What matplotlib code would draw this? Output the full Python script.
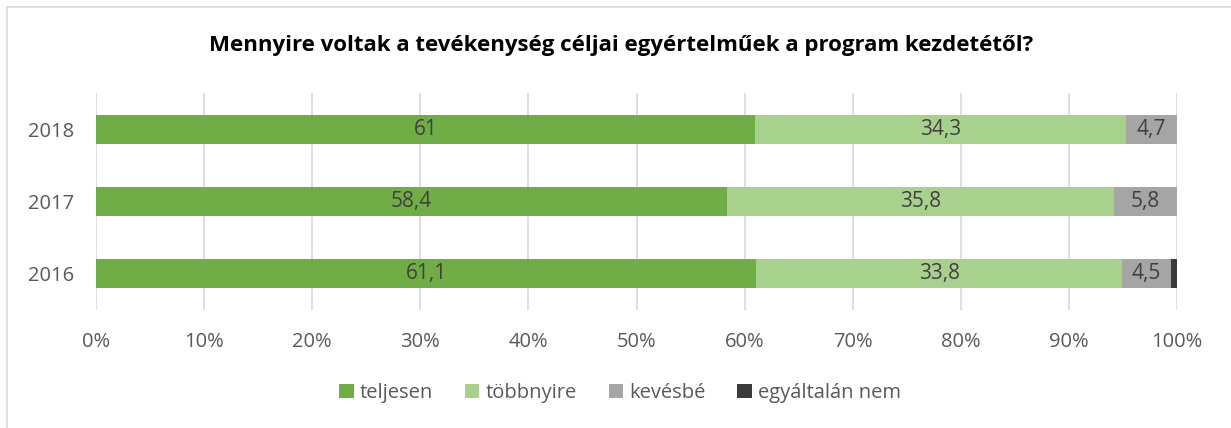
import matplotlib
matplotlib.use("Agg")
import matplotlib.pyplot as plt
from matplotlib.patches import Rectangle, Patch
import numpy as np

plt.rcParams['font.family'] = ['Open Sans', 'DejaVu Sans']

title = "Mennyire voltak a tevékenység céljai egyértelműek a program kezdetétől?"
years = ["2016", "2017", "2018"]
series_names = ["teljesen", "többnyire", "kevésbé", "egyáltalán nem"]
teljesen = [61.1, 58.4, 61.0]
tobbnyire = [33.8, 35.8, 34.3]
kevesbe = [4.5, 5.8, 4.7]
egyaltalan = [0.6, 0.0, 0.0]
colors = ["#70AD47", "#A9D18E", "#A5A5A5", "#3B3B3B"]
xticks = [0, 10, 20, 30, 40, 50, 60, 70, 80, 90, 100]

W, H = 1231, 428
fig = plt.figure(figsize=(W / 100, H / 100), dpi=100)
fig.patches.append(Rectangle((7 / W, -0.1), 1.2, (H - 7) / H + 0.1,
                             transform=fig.transFigure, fill=False,
                             edgecolor="#D9D9D9", linewidth=1.2))

ax = fig.add_axes([96 / W, 1 - 310 / H, (1177 - 96) / W, (310 - 93) / H])
y = np.arange(len(years))
left = np.zeros(len(years))
all_series = [teljesen, tobbnyire, kevesbe, egyaltalan]
for name, vals, c in zip(series_names, all_series, colors):
    vals = np.array(vals)
    ax.barh(y, vals, left=left, height=0.4, color=c, zorder=3)
    if name != "egyáltalán nem":
        for yi, (l, v) in enumerate(zip(left, vals)):
            if v > 0:
                ax.text(l + v / 2, yi, f"{v:g}".replace(".", ","), ha="center",
                        va="center", fontsize=15, color="#404040", zorder=4)
    left = left + vals

ax.set_xlim(0, 100)
ax.set_ylim(-0.5, 2.5)
ax.set_xticks(xticks)
ax.set_xticklabels([f"{t}%" for t in xticks])
ax.set_yticks(y)
ax.set_yticklabels(years)
ax.tick_params(axis="both", length=0, labelsize=14.5, labelcolor="#595959")
ax.tick_params(axis="x", pad=16)
ax.tick_params(axis="y", pad=16)
ax.grid(axis="x", color="#D9D9D9", linewidth=1.2, zorder=0)
for s in ax.spines.values():
    s.set_visible(False)

fig.text(621 / W, 1 - 45 / H, title, ha="center", va="center",
         fontsize=16, fontweight="bold", color="#000000")

handles = [Patch(facecolor=c, edgecolor="none") for c in colors]
fig.legend(handles, series_names, loc="center", bbox_to_anchor=(620 / W, 1 - 393 / H),
           ncol=4, frameon=False, fontsize=14.5, labelcolor="#595959",
           handlelength=0.7, handleheight=0.7, handletextpad=0.3, columnspacing=1.6)

fig.savefig("out.png", dpi=100)
